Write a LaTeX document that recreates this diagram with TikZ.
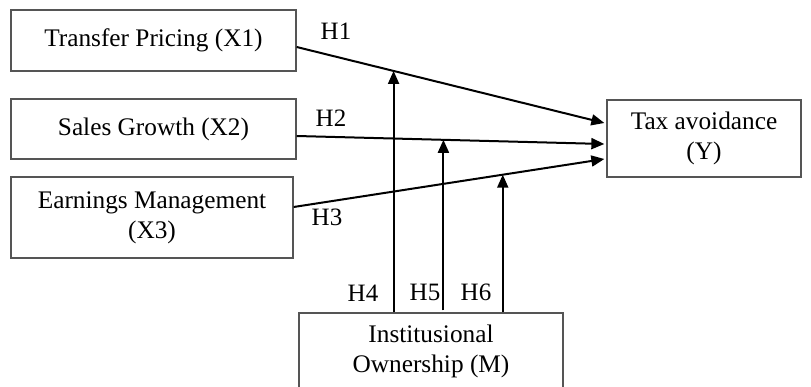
\documentclass[tikz,border=0pt]{standalone}
\usepackage{fontspec}
\setmainfont{Liberation Serif}
\usepackage{xcolor}
\definecolor{frame}{HTML}{555555}
\usepackage{tikz}
\usetikzlibrary{arrows.meta,positioning,calc}
\tikzset{
  >={Triangle[length=13pt,width=11pt]},
  varbox/.style ={draw=frame,line width=1.3pt,fill=white,
                  font=\fontsize{25.3}{30}\selectfont,align=center,
                  inner sep=0pt},
  hyp/.style    ={font=\fontsize{25}{30}\selectfont,inner sep=0pt},
  path/.style   ={->,draw=black,line width=2pt},
}

\begin{document}
\begin{tikzpicture}[x=1pt,y=-1pt]
\useasboundingbox (0,0) rectangle (811,387);
\node[varbox,minimum width=285pt,minimum height=61pt] (x1) at (153.5,40.5) {Transfer Pricing (X1)};
\node[varbox,minimum width=285pt,minimum height=60pt] (x2) at (153.5,129) {Sales Growth (X2)};
\node[varbox,minimum width=282pt,minimum height=81pt] (x3) at (152,217.5) {Earnings Management\\ (X3)};
\node[varbox,minimum width=194pt,minimum height=77pt] (y) at (704,138.5) {Tax avoidance\\ (Y)};
\node[varbox,minimum width=264pt,minimum height=76pt] (m) at (431,351) {Institusional\\ Ownership (M)};
% direct effects
\draw[path] ([yshift=-6.5pt]x1.east) -- coordinate[pos=0.315] (h4) ([xshift=-2pt,yshift=15.5pt]y.west);
\draw[path] ([yshift=-7pt]x2.east) -- coordinate[pos=0.477] (h5) ([xshift=-2pt,yshift=-5.5pt]y.west);
\draw[path] ([yshift=10.5pt]x3.east) -- coordinate[pos=0.673] (h6) ([xshift=-2pt,yshift=-20.5pt]y.west);
% moderation
\draw[path] (h4 |- m.north) -- (h4);
\draw[path] ([yshift=2pt]h5 |- m.north) -- (h5);
\draw[path] (h6 |- m.north) -- (h6);
\node[hyp] (l1) at (336,31) {H1};
\node[hyp] (l2) at (331,118) {H2};
\node[hyp] (l3) at (327,217) {H3};
\node[hyp] (l4) at (363,293) {H4};
\node[hyp] (l5) at (425,292) {H5};
\node[hyp] (l6) at (476,292) {H6};
\end{tikzpicture}
\end{document}
